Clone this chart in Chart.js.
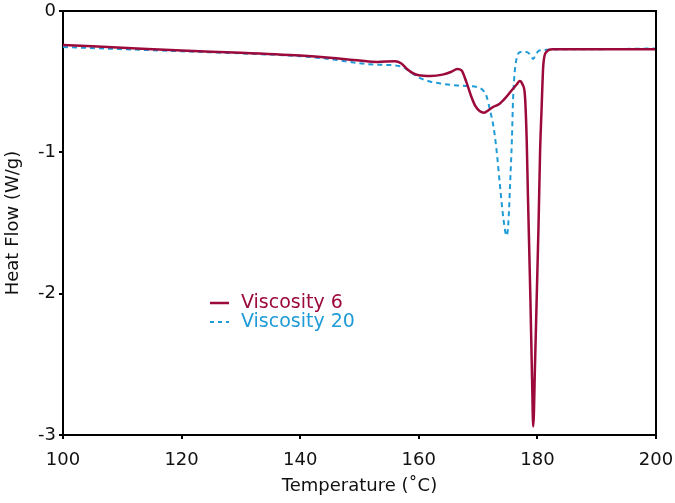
<!DOCTYPE html>
<html>
<head>
<meta charset="utf-8">
<script src="https://cdn.jsdelivr.net/npm/chart.js@4/dist/chart.umd.min.js"></script>
<style>
  html, body { margin: 0; padding: 0; background: #fff; }
  #wrap { width: 675px; height: 503px; position: relative; }
</style>
</head>
<body>
<div id="wrap"><canvas id="c" width="675" height="503"></canvas></div>
<script>
// ---- Data ----
const seriesNames = ["Viscosity 6", "Viscosity 20"];

const tempV6 = [100, 110, 120, 130, 140, 145, 150, 153, 156, 157, 158, 159, 160, 162, 164, 165.5, 166.5, 167.2, 168, 168.8, 169.5, 170.3, 171, 171.8, 172.5, 173.5, 174.5, 175.5, 176.5, 177.0, 177.5, 177.9, 178.2, 178.4, 178.8, 179.1, 179.3, 179.6, 179.9, 180.2, 180.45, 180.7, 181.0, 181.5, 182.5, 185, 190, 200];
const heatV6 = [-0.24, -0.26, -0.28, -0.295, -0.315, -0.33, -0.35, -0.36, -0.355, -0.37, -0.41, -0.44, -0.455, -0.46, -0.45, -0.43, -0.41, -0.42, -0.50, -0.60, -0.67, -0.71, -0.72, -0.70, -0.68, -0.66, -0.62, -0.57, -0.52, -0.495, -0.52, -0.60, -0.92, -1.30, -2.00, -2.60, -2.94, -2.50, -2.00, -1.50, -1.00, -0.70, -0.38, -0.29, -0.27, -0.27, -0.27, -0.27];

const tempV20 = [100, 110, 120, 130, 140, 145, 150, 153, 156, 157.5, 158.5, 160, 162, 164, 166, 168, 170, 170.8, 171.4, 172, 172.6, 173.1, 173.7, 174.3, 174.8, 175.1, 175.4, 175.7, 175.9, 176.2, 176.6, 177.2, 178.2, 178.8, 179.3, 179.7, 180.3, 181.5, 185, 190, 200];
const heatV20 = [-0.255, -0.27, -0.285, -0.30, -0.32, -0.34, -0.37, -0.38, -0.385, -0.40, -0.43, -0.47, -0.50, -0.515, -0.525, -0.53, -0.54, -0.56, -0.60, -0.70, -0.82, -0.98, -1.24, -1.48, -1.59, -1.50, -1.22, -0.91, -0.62, -0.42, -0.32, -0.29, -0.29, -0.31, -0.34, -0.31, -0.28, -0.275, -0.27, -0.27, -0.265];

const xTicks = [100, 120, 140, 160, 180, 200];
const yTicks = [0, -1, -2, -3];

const xTitle = "Temperature (˚C)";
const yTitle = "Heat Flow (W/g)";

// ---- Styles ----
const RED = "#9c0a3b";
const BLUE = "#1f9bd7";
const FONT = "'DejaVu Sans', sans-serif";

const toPts = (xs, ys) => xs.map((x, i) => ({ x: x, y: ys[i] }));

const framePlugin = {
  id: "frame",
  afterDatasetsDraw(chart) {
    const { ctx, chartArea: a } = chart;
    ctx.save();
    ctx.strokeStyle = "#000";
    ctx.lineWidth = 2;
    ctx.beginPath();
    ctx.moveTo(a.left, a.top);
    ctx.lineTo(a.right, a.top);
    ctx.lineTo(a.right, a.bottom);
    ctx.stroke();
    ctx.restore();
  }
};

const legendPlugin = {
  id: "insideLegend",
  afterDraw(chart) {
    const { ctx } = chart;
    const items = [
      { name: seriesNames[0], color: RED, dash: [], width: 2.5, y: 303 },
      { name: seriesNames[1], color: BLUE, dash: [4, 4], width: 2, y: 322 }
    ];
    ctx.save();
    ctx.font = "19px " + FONT;
    ctx.textBaseline = "middle";
    ctx.textAlign = "left";
    items.forEach(it => {
      ctx.strokeStyle = it.color;
      ctx.lineWidth = it.width;
      ctx.setLineDash(it.dash);
      ctx.beginPath();
      ctx.moveTo(210, it.y);
      ctx.lineTo(229, it.y);
      ctx.stroke();
      ctx.setLineDash([]);
      ctx.fillStyle = it.color;
      ctx.fillText(it.name, 241, it.y);
    });
    ctx.restore();
  }
};

new Chart(document.getElementById("c"), {
  type: "line",
  data: {
    datasets: [
      {
        label: seriesNames[0],
        data: toPts(tempV6, heatV6),
        borderColor: RED,
        borderWidth: 2.5,
        pointRadius: 0,
        fill: false,
        cubicInterpolationMode: "monotone"
      },
      {
        label: seriesNames[1],
        data: toPts(tempV20, heatV20),
        borderColor: BLUE,
        borderWidth: 2,
        borderDash: [5, 4],
        pointRadius: 0,
        fill: false,
        cubicInterpolationMode: "monotone"
      }
    ]
  },
  options: {
    responsive: false,
    animation: false,
    events: [],
    layout: { padding: { top: 11, right: 19, left: 0, bottom: 0 } },
    plugins: { legend: { display: false }, tooltip: { enabled: false } },
    scales: {
      x: {
        type: "linear",
        min: 100, max: 200,
        afterFit(s) { s.height = 68; s.paddingLeft = 0; s.paddingRight = 0; },
        afterBuildTicks(s) { s.ticks = xTicks.map(v => ({ value: v })); },
        ticks: { font: { family: FONT, size: 18 }, color: "#111", padding: 11, maxRotation: 0 },
        grid: { drawOnChartArea: false, tickLength: 4, color: "#000", lineWidth: 2 },
        border: { color: "#000", width: 2 },
        title: { display: true, text: xTitle, font: { family: FONT, size: 18 }, color: "#111", padding: { top: 0, bottom: 6 } }
      },
      y: {
        type: "linear",
        min: -3, max: 0,
        afterFit(s) { s.width = 63; s.paddingTop = 0; s.paddingBottom = 0; },
        afterBuildTicks(s) { s.ticks = yTicks.map(v => ({ value: v })); },
        ticks: { font: { family: FONT, size: 18 }, color: "#111", padding: 3 },
        grid: { drawOnChartArea: false, tickLength: 4, color: "#000", lineWidth: 2 },
        border: { color: "#000", width: 2 },
        title: { display: true, text: yTitle, font: { family: FONT, size: 18 }, color: "#111", padding: { top: 3, bottom: 0 } }
      }
    }
  },
  plugins: [framePlugin, legendPlugin]
});
</script>
</body>
</html>
